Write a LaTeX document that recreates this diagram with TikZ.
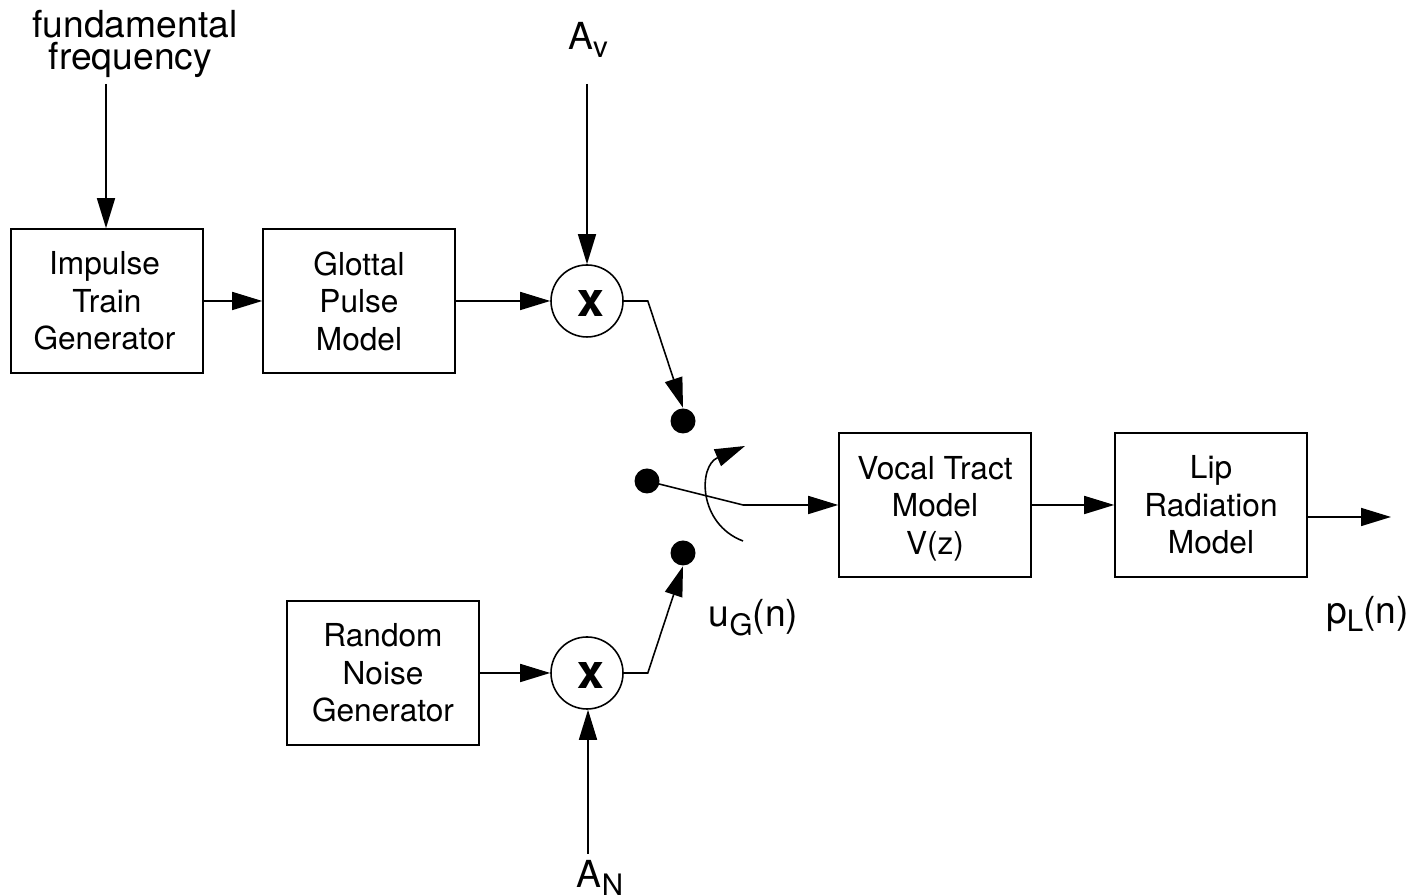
\documentclass[tikz,border=0pt]{standalone}
\usepackage{fontspec}
\setmainfont{TeX Gyre Heros}
\usetikzlibrary{arrows.meta,calc}
\newcommand{\lowsub}[1]{\raisebox{-0.45ex}{\fontsize{8.4}{8.4}\selectfont #1}}
\tikzset{
  block/.style={
    draw,
    line width=0.45pt,
    minimum width=1.92cm,
    minimum height=1.44cm,
    inner sep=0pt,
    align=center,
    font=\fontsize{9}{10.67}\selectfont
  },
  mult/.style={
    draw,
    circle,
    line width=0.45pt,
    minimum size=0.72cm,
    inner sep=0pt,
    text height=0.31cm,
    text depth=0cm,
    execute at begin node={\kern0.07cm},
    font=\fontsize{13.7}{13.7}\selectfont\bfseries
  },
  contact/.style={
    shape=circle,
    fill,
    minimum size=0.25cm,
    inner sep=0pt
  },
  sigtext/.style={
    font=\fontsize{10.6}{9.35}\selectfont,
    align=center
  },
  sig/.style={
    line width=0.45pt,
    -{Triangle[length=0.3cm,width=0.18cm]}
  }
}
\begin{document}
\begin{tikzpicture}
        \useasboundingbox (0,0) rectangle (14.24,8.96);
        \node[sigtext] (fund) at (1.35,8.52) {fundamental\\frequency\hspace*{0.09cm}};
        \node[sigtext] (av) at (5.88,8.56) {A\lowsub{v}};
        \node[sigtext] (an) at (6.0,0.18) {A\lowsub{N}};
        \coordinate (fundend) at (1.06,8.12);
        \coordinate (avend) at (5.87,8.12);
        \coordinate (anend) at (5.88,0.42);
        \node[block] (impulse) at (1.07,5.95) {Impulse\hspace*{0.05cm}\\Train\hspace*{0.05cm}\\Generator\hspace*{0.05cm}};
        \node[block] (glottal) at (3.59,5.95) {Glottal\\Pulse\\Model};
        \node[block] (noise) at (3.83,2.23) {Random\\Noise\\Generator};
        \node[block] (vocal) at (9.35,3.91) {Vocal Tract\\Model\\\smash{V(z)}};
        \node[block] (lip) at (12.11,3.91) {Lip\\Radiation\\Model};
        \node[mult] (multa) at (5.87,5.95) {x};
        \node[mult] (multb) at (5.87,2.23) {x};
        \node[contact] (top) at (6.83,4.75) {};
        \node[contact] (mid) at (6.47,4.15) {};
        \node[contact] (bot) at (6.83,3.43) {};
        \coordinate (pivot) at (7.43,3.91);
        \coordinate (out) at (13.91,3.79);
        \coordinate (arcstart) at (7.43,3.55);
        \coordinate (arcend) at (7.45,4.5);
        \node[sigtext] (ug) at (7.535,2.78) {u\lowsub{G}(n)};
        \node[sigtext] (pl) at (13.675,2.82) {p\lowsub{L}(n)};

        \draw[sig] (fundend)--(impulse.north -| fundend);
        \draw[sig] (avend)--(multa.north);
        \draw[sig] (anend)--(anend |- multb.south);
        \draw[sig] (impulse)--(glottal);
        \draw[sig] (glottal)--(multa);
        \draw[sig] (noise)--(multb);
        \draw[sig] (multa.east)--++(0.24,0)--(top.north);
        \draw[sig] (multb.east)--++(0.24,0)--(bot.south);
        \draw[line width=0.45pt] (mid.center)--(pivot);
        \draw[sig] (pivot)--(vocal);
        \draw[sig] (vocal)--(lip);
        \draw[sig] (lip.east |- out)--(out);
        \draw[sig] (arcstart) .. controls (6.98,3.72) and (6.98,4.3) .. (arcend);
\end{tikzpicture}
\end{document}
